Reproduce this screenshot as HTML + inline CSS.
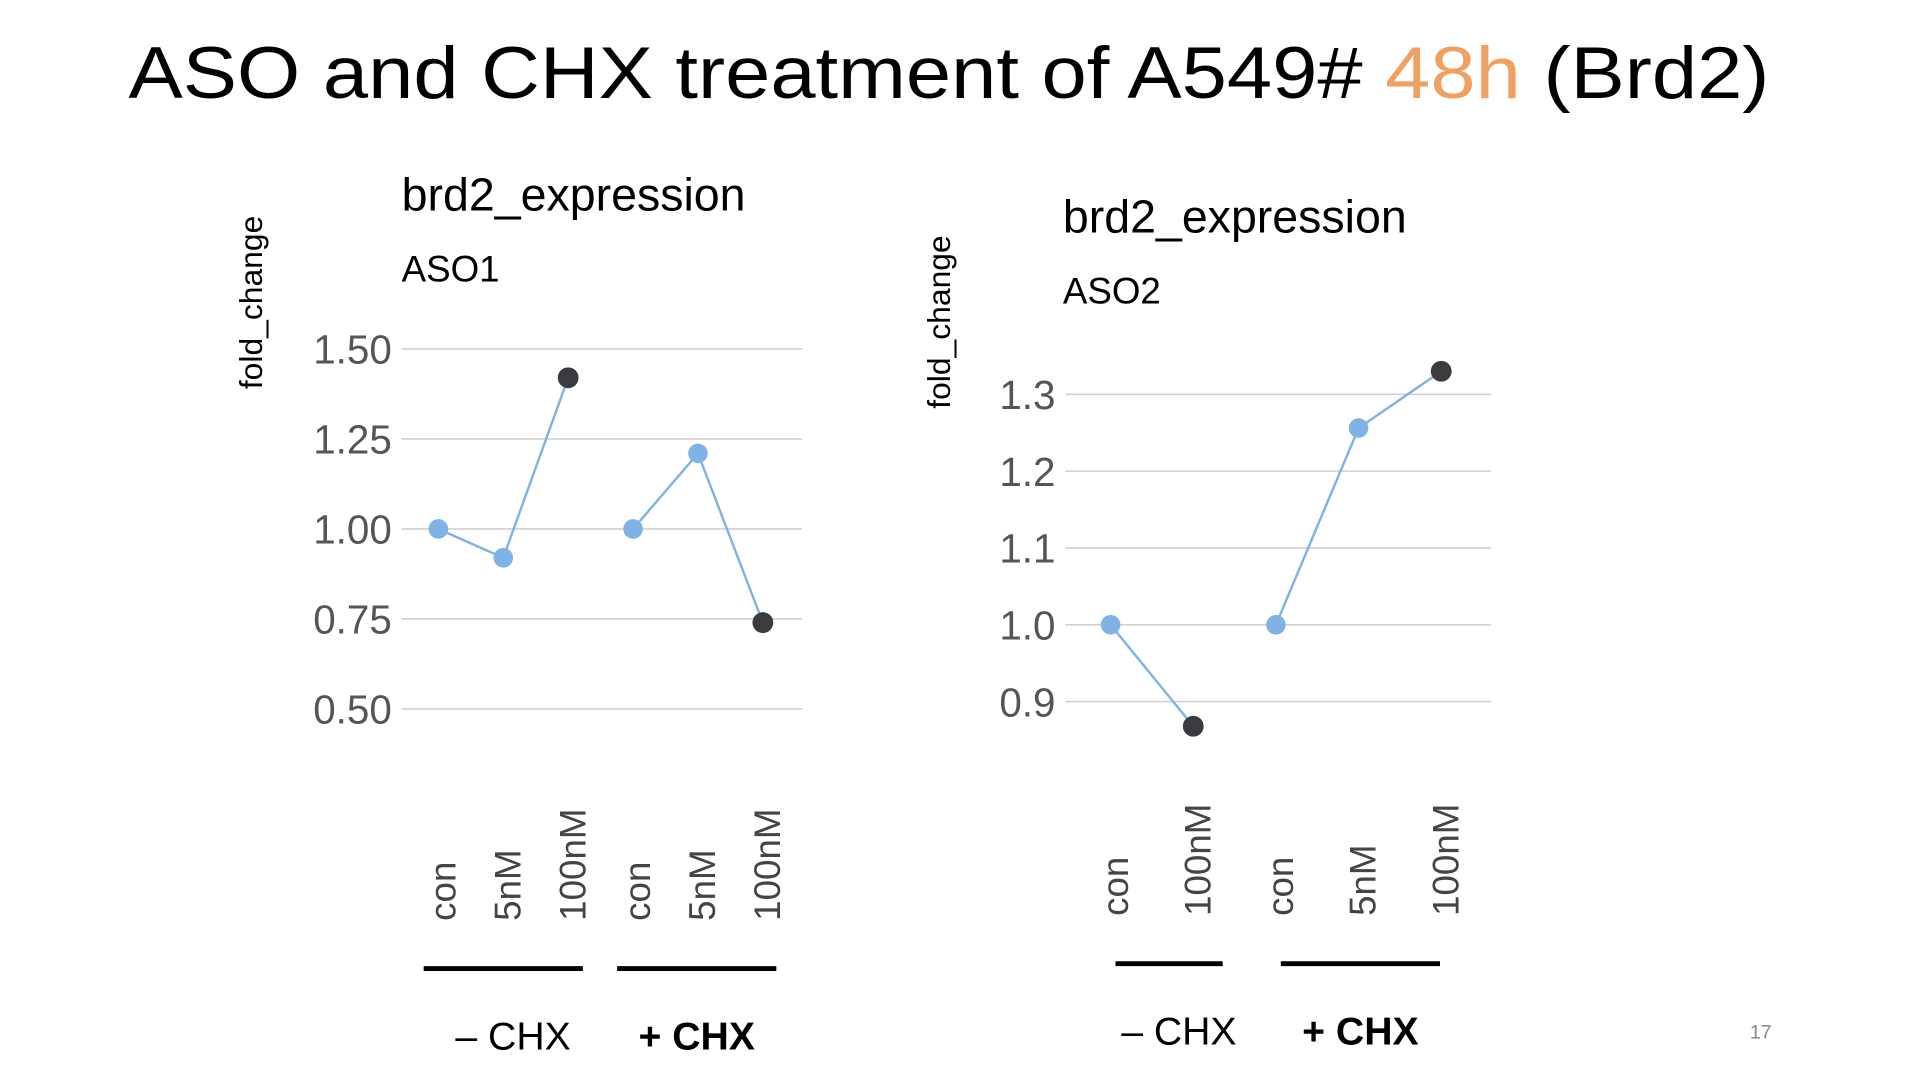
<!DOCTYPE html>
<html><head><meta charset="utf-8"><style>
html,body{margin:0;padding:0;background:#fff;}
svg{display:block;font-family:"Liberation Sans",sans-serif;}
</style></head><body>
<svg id="svg" width="1920" height="1080" viewBox="0 0 1568 882" xmlns="http://www.w3.org/2000/svg">
<text x="105" y="80" font-size="60" textLength="1340" lengthAdjust="spacingAndGlyphs" fill="#000">ASO and CHX treatment of A549# <tspan fill="#f0a060">48h</tspan> (Brd2)</text>
<g id="c1"></g>
<g id="c2"></g>
<text x="1438" y="848" font-size="16" fill="#888" text-anchor="middle">17</text>
</svg>
<script>
const cats1 = ["con","5nM","100nM","con","5nM","100nM"];
const vals1 = [1.00,0.92,1.42,1.00,1.21,0.74];
const groups1 = [0,0,0,1,1,1];
const ticks1 = [0.50,0.75,1.00,1.25,1.50];
const tickLabels1 = ["0.50","0.75","1.00","1.25","1.50"];
const cats2 = ["con","100nM","con","5nM","100nM"];
const vals2 = [1.00,0.868,1.00,1.256,1.33];
const groups2 = [0,0,1,1,1];
const ticks2 = [0.9,1.0,1.1,1.2,1.3];
const tickLabels2 = ["0.9","1.0","1.1","1.2","1.3"];
const NS="http://www.w3.org/2000/svg";
function mk(p,t,a,txt){const e=document.createElementNS(NS,t);for(const k in a)e.setAttribute(k,a[k]);if(txt!==undefined)e.textContent=txt;p.appendChild(e);return e;}
function draw(g,cfg,cats,vals,groups,ticks,tickLabels){
  const y=v=>cfg.y0+(v-cfg.v0)*(cfg.y1-cfg.y0)/(cfg.v1-cfg.v0);
  const x=i=>cfg.xs+i*cfg.dx;
  let t=mk(g,'text',{x:cfg.tx,y:cfg.ty,'font-size':38,fill:'#000'},'brd2_expression');
  
  
  t=mk(g,'text',{x:cfg.tx,y:cfg.ty+58,'font-size':30,fill:'#000'},cfg.sub);
  
  
  t=mk(g,'text',{x:0,y:0,'font-size':26,fill:'#000','text-anchor':'middle',transform:`translate(${cfg.ytx},${cfg.yty}) rotate(-90)`},'fold_change');
  
  
  ticks.forEach((v,i)=>{
    const l=mk(g,'line',{x1:cfg.gx0,x2:cfg.gx1,y1:y(v),y2:y(v),stroke:'#d0d0d0','stroke-width':1.3});
    
    
    const tl=mk(g,'text',{x:cfg.gx0-8,y:y(v)+12,'font-size':33,fill:'#555','text-anchor':'end'},tickLabels[i]);
    
    
  });
  for(let i=1;i<vals.length;i++){
    if(groups[i]!==groups[i-1])continue;
    const l=mk(g,'line',{x1:x(i-1),y1:y(vals[i-1]),x2:x(i),y2:y(vals[i]),stroke:'#7fb3e6','stroke-width':2});
    
    
  }
  vals.forEach((v,i)=>{
    const dark=cats[i]==='100nM';
    const c=mk(g,'circle',{cx:x(i),cy:y(v),r:dark?8.5:8,fill:dark?'#3b3b3f':'#7fb3e6'});
    
    
    const tl=mk(g,'text',{x:0,y:0,'font-size':30,fill:'#444','text-anchor':'start',transform:`translate(${x(i)+14},${cfg.lbly}) rotate(-90)`},cats[i]);
    
    
  });
  [0,1].forEach(gi=>{
    const idx=groups.map((gg,i)=>gg===gi?i:-1).filter(i=>i>=0);
    const a=x(idx[0])+cfg.pad[gi][0],b=x(idx[idx.length-1])+cfg.pad[gi][1];
    const l=mk(g,'line',{x1:a,x2:b,y1:cfg.uly,y2:cfg.uly,stroke:'#000','stroke-width':4});
    
    
    const tl=mk(g,'text',{x:(a+b)/2+(gi?0:8),y:cfg.uly+66,'font-size':32,'font-weight':gi?'bold':'normal',fill:'#000','text-anchor':'middle'},gi?'+ CHX':'\u2013 CHX');
    
    
  });
}
draw(document.getElementById('c1'),{v0:0.5,v1:1.5,y0:579,y1:285,xs:358,dx:53,gx0:328,gx1:655,tx:328,ty:172,sub:'ASO1',ytx:214,yty:247,lbly:752,uly:791,pad:[[-12,12],[-13,11]]},cats1,vals1,groups1,ticks1,tickLabels1);
draw(document.getElementById('c2'),{v0:0.9,v1:1.3,y0:573,y1:322,xs:907,dx:67.5,gx0:870,gx1:1218,tx:868,ty:190,sub:'ASO2',ytx:776,yty:263,lbly:748,uly:787,pad:[[4,24],[4,-1]]},cats2,vals2,groups2,ticks2,tickLabels2);
</script>
</body></html>
